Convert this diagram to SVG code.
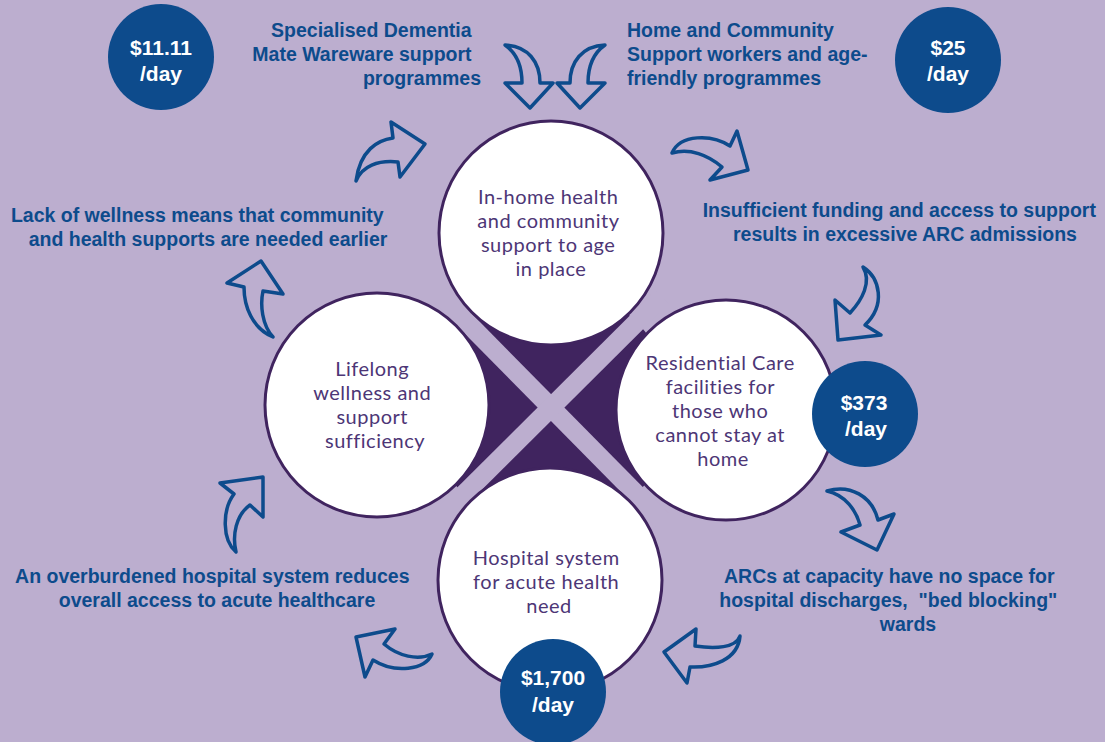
<svg xmlns="http://www.w3.org/2000/svg" width="1105" height="742" viewBox="0 0 1105 742">
  <style>
    .bg { fill: #bcaecf; }
    .hub { fill: #40245f; }
    .stripe { stroke: #bcaecf; stroke-width: 19; stroke-linecap: butt; fill: none; }
    .stage { fill: #ffffff; stroke: #40245f; stroke-width: 3; }
    .stage-text { font-family: Lato, "Open Sans", "DejaVu Sans", sans-serif; font-weight: 400; font-size: 20px; letter-spacing: 0.5px; fill: #4d3676; text-anchor: middle; }
    .badge { fill: #0d4b8c; }
    .badge-text { font-family: "Liberation Sans", Arial, sans-serif; font-weight: 700; font-size: 21px; fill: #ffffff; text-anchor: middle; }
    .label { font-family: "Liberation Sans", Arial, sans-serif; font-weight: 700; font-size: 19.5px; fill: #0d4b8c; }
    .arrow { fill: none; stroke: #0d4b8c; stroke-width: 3.5; stroke-linejoin: round; stroke-linecap: round; }
  </style>

  <rect class="bg" x="0" y="0" width="1105" height="742"/>

  <!-- central hub with crossing light bands -->
  <g id="hub">
    <circle class="hub" cx="550" cy="408" r="122"/>
    <line class="stripe" x1="440" y1="295" x2="662" y2="520"/>
    <line class="stripe" x1="662" y1="297" x2="440" y2="518"/>
  </g>

  <!-- stage circles -->
  <g id="node-in-home">
    <circle class="stage" cx="551" cy="233" r="112"/>
    <text class="stage-text">
      <tspan x="551" y="204">In-home health</tspan>
      <tspan x="551" y="228">and community</tspan>
      <tspan x="551" y="252">support to age</tspan>
      <tspan x="551" y="276">in place</tspan>
    </text>
  </g>

  <g id="node-lifelong">
    <circle class="stage" cx="377" cy="405" r="112"/>
    <text class="stage-text">
      <tspan x="375" y="376">Lifelong</tspan>
      <tspan x="375" y="400">wellness and</tspan>
      <tspan x="375" y="424">support</tspan>
      <tspan x="375" y="448">sufficiency</tspan>
    </text>
  </g>

  <g id="node-residential">
    <circle class="stage" cx="726" cy="410" r="110"/>
    <text class="stage-text">
      <tspan x="723" y="370">Residential Care</tspan>
      <tspan x="723" y="394">facilities for</tspan>
      <tspan x="723" y="418">those who</tspan>
      <tspan x="723" y="442">cannot stay at</tspan>
      <tspan x="723" y="466">home</tspan>
    </text>
  </g>

  <g id="node-hospital">
    <circle class="stage" cx="550" cy="580" r="112"/>
    <text class="stage-text">
      <tspan x="549" y="565">Hospital system</tspan>
      <tspan x="549" y="589">for acute health</tspan>
      <tspan x="549" y="613">need</tspan>
    </text>
  </g>

  <!-- cost badges -->
  <g id="cost-dementia">
    <circle class="badge" cx="161" cy="57" r="53"/>
    <text class="badge-text"><tspan x="161" y="55">$11.11</tspan><tspan x="161" y="81">/day</tspan></text>
  </g>
  <g id="cost-community">
    <circle class="badge" cx="948" cy="60" r="53"/>
    <text class="badge-text"><tspan x="948" y="55">$25</tspan><tspan x="948" y="81">/day</tspan></text>
  </g>
  <g id="cost-residential">
    <circle class="badge" cx="865" cy="414" r="53"/>
    <text class="badge-text"><tspan x="864" y="410">$373</tspan><tspan x="866" y="436">/day</tspan></text>
  </g>
  <g id="cost-hospital">
    <circle class="badge" cx="553" cy="692" r="53"/>
    <text class="badge-text"><tspan x="553" y="685">$1,700</tspan><tspan x="553" y="712">/day</tspan></text>
  </g>

  <!-- captions -->
  <g id="label-dementia">
    <text class="label" text-anchor="end">
      <tspan x="477" y="37">Specialised Dementia</tspan>
      <tspan x="477" y="61">Mate Wareware support</tspan>
      <tspan x="481" y="85">programmes</tspan>
    </text>
  </g>
  <g id="label-community">
    <text class="label">
      <tspan x="627" y="37">Home and Community</tspan>
      <tspan x="627" y="61">Support workers and age-</tspan>
      <tspan x="627" y="85">friendly programmes</tspan>
    </text>
  </g>
  <g id="label-funding">
    <text class="label" text-anchor="middle">
      <tspan x="902" y="217">Insufficient funding and access to support</tspan>
      <tspan x="905" y="241">results in excessive ARC admissions</tspan>
    </text>
  </g>
  <g id="label-wellness">
    <text class="label" text-anchor="middle">
      <tspan x="200" y="222">Lack of wellness means that community</tspan>
      <tspan x="208" y="246">and health supports are needed earlier</tspan>
    </text>
  </g>
  <g id="label-overburdened">
    <text class="label" text-anchor="middle">
      <tspan x="215" y="583">An overburdened hospital system reduces</tspan>
      <tspan x="217" y="607">overall access to acute healthcare</tspan>
    </text>
  </g>
  <g id="label-capacity">
    <text class="label" text-anchor="middle">
      <tspan x="892" y="583">ARCs at capacity have no space for</tspan>
      <tspan x="891" y="607">hospital discharges,&#160; "bed blocking"</tspan>
      <tspan x="908" y="631">wards</tspan>
    </text>
  </g>

  <!-- curved cycle arrows -->
  <g id="connectors">
    <path class="arrow" d="M 425 144 L 391 122 L 393 138 C 378 140, 360 150, 356 181 C 362 166, 378 160, 398 162 L 400 177 Z"/>
    <path class="arrow" d="M 505 45 C 515 52, 522 65, 522 83 L 505 83 L 530 108 L 553 83 L 540 83 C 540 62, 528 46, 505 45 Z"/>
    <path class="arrow" d="M 605 45 C 595 52, 588 65, 588 83 L 605 83 L 580 108 L 557 83 L 570 83 C 570 62, 582 46, 605 45 Z"/>
    <path class="arrow" d="M 672 153 C 680 134, 712 134, 730 146 L 737 131 L 748 170 L 710 180 L 722 167 C 708 155, 690 148, 672 153 Z"/>
    <path class="arrow" d="M 863 267 C 880 278, 886 305, 865 325 L 881 335 L 838 340 L 835 300 L 850 313 C 862 300, 872 282, 863 267 Z"/>
    <path class="arrow" d="M 827 491 C 850 484, 872 496, 878 520 L 894 514 L 877 550 L 841 532 L 860 525 C 856 510, 845 495, 827 491 Z"/>
    <path class="arrow" d="M 740 636 C 736 648, 715 649, 695 646 L 696 629 L 664 652 L 687 683 L 690 667 C 712 668, 738 660, 740 636 Z"/>
    <path class="arrow" d="M 356 637 L 395 629 L 384 644 C 398 656, 418 661, 432 654 C 425 670, 395 674, 373 660 L 365 677 Z"/>
    <path class="arrow" d="M 263 477 L 220 483 L 234 494 C 222 510, 222 540, 236 552 C 232 535, 236 515, 250 505 L 263 517 Z"/>
    <path class="arrow" d="M 261 261 L 227 283 L 244 287 C 244 306, 252 328, 273 337 C 262 325, 260 305, 263 291 L 283 294 Z"/>
  </g>
</svg>
